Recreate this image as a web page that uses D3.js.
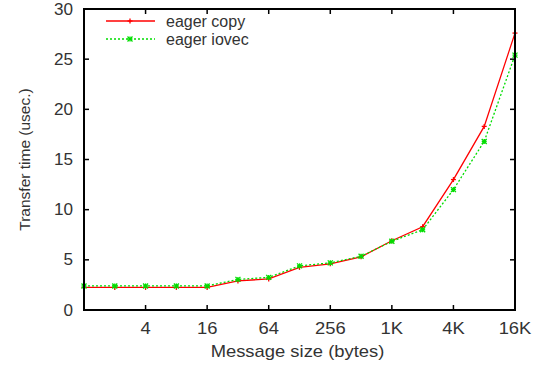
<!DOCTYPE html>
<html lang="en">
<head>
  <meta charset="UTF-8">
  <title>Transfer time</title>
  <script src="https://cdn.jsdelivr.net/npm/d3@7"></script>
  <style>
    body { margin: 0; background: #fff; }
    text { font-family: "Liberation Sans", Arial, sans-serif; font-size: 16px; fill: #333; }
  </style>
</head>
<body>
  <svg id="chart"></svg>
  <script>
    // message sizes in bytes
    const sizes = [1, 2, 4, 8, 16, 32, 64, 128, 256, 512, 1024, 2048, 4096, 8192, 16384];
    const eagerCopy = [2.25, 2.25, 2.25, 2.25, 2.25, 2.9, 3.1, 4.25, 4.6, 5.3, 6.9, 8.3, 13.0, 18.3, 27.6];
    const eagerIovec = [2.4, 2.4, 2.4, 2.4, 2.4, 3.05, 3.25, 4.4, 4.7, 5.35, 6.85, 8.0, 12.0, 16.8, 25.4];
    const xTicks = [4, 16, 64, 256, 1024, 4096, 16384];
    const xTickLabels = ['4', '16', '64', '256', '1K', '4K', '16K'];
    const yTicks = [0, 5, 10, 15, 20, 25, 30];

    const width = 537, height = 369;
    const margin = { top: 9, right: 22, bottom: 59, left: 84 };

    const svg = d3.select('#chart')
        .attr('width', width)
        .attr('height', height);

    let x = d3.scaleLog().base(2)
        .domain([1, 16384])
        .range([margin.left, width - margin.right]);
    let y = d3.scaleLinear()
        .domain([0, 30])
        .range([height - margin.bottom, margin.top]);

    let tickLen = 5;
    let ticksG = svg.append('g').attr('stroke', '#000').attr('stroke-width', 1.5);
    // y ticks, left and right, pointing inward
    yTicks.forEach(v => {
      ticksG.append('line').attr('x1', x.range()[0]).attr('x2', x.range()[0] + tickLen)
          .attr('y1', y(v)).attr('y2', y(v));
      ticksG.append('line').attr('x1', x.range()[1]).attr('x2', x.range()[1] - tickLen)
          .attr('y1', y(v)).attr('y2', y(v));
    });
    xTicks.forEach(v => {
      ticksG.append('line').attr('x1', x(v)).attr('x2', x(v))
          .attr('y1', y.range()[0]).attr('y2', y.range()[0] - tickLen);
      ticksG.append('line').attr('x1', x(v)).attr('x2', x(v))
          .attr('y1', y.range()[1]).attr('y2', y.range()[1] + tickLen);
    });

    // the original text is a little wider than it is tall
    let stretch = 1.15;

    svg.selectAll('.ylab')
        .data(yTicks)
        .enter()
        .append('text')
        .attr('class', 'ylab')
        .attr('transform', d => 'translate(' + (x.range()[0] - 11) + ',' + (y(d) + 5.5) + ') scale(1.07,1)')
        .attr('text-anchor', 'end')
        .text(d => d);

    svg.selectAll('.xlab')
        .data(xTicks)
        .enter()
        .append('text')
        .attr('class', 'xlab')
        .attr('transform', d => 'translate(' + x(d) + ',' + (y(0) + 24) + ') scale(' + stretch + ',1)')
        .attr('text-anchor', 'middle')
        .text((d, i) => xTickLabels[i]);

    svg.append('text')
        .attr('transform', 'translate(' + ((x.range()[0] + x.range()[1]) / 2 - 2) + ',357) scale(' + stretch + ',1)')
        .attr('text-anchor', 'middle')
        .text('Message size (bytes)');

    svg.append('text')
        .attr('transform', 'translate(30,' + ((y.range()[0] + y.range()[1]) / 2) + ') rotate(-90)')
        .attr('text-anchor', 'middle')
        .style('font-size', '15.5px')
        .text('Transfer time (usec.)');

    let line = d3.line()
        .x(d => x(d[0]))
        .y(d => y(d[1]));

    const series = [
      { name: 'eager copy', values: eagerCopy, color: '#ff0000', dash: null, marker: 'plus' },
      { name: 'eager iovec', values: eagerIovec, color: '#00dd00', dash: '2,2', marker: 'star' }
    ];

    function drawMarker(g, cx, cy, s) {
      let r = 2.5;
      g.append('line').attr('x1', cx - r).attr('x2', cx + r).attr('y1', cy).attr('y2', cy);
      g.append('line').attr('x1', cx).attr('x2', cx).attr('y1', cy - r).attr('y2', cy + r);
      if (s.marker === 'star') {
        g.append('line').attr('x1', cx - r).attr('x2', cx + r).attr('y1', cy - r).attr('y2', cy + r);
        g.append('line').attr('x1', cx - r).attr('x2', cx + r).attr('y1', cy + r).attr('y2', cy - r);
      }
    }

    let plotG = svg.append('g');
    series.forEach(s => {
      let pts = sizes.map((v, i) => [v, s.values[i]]);
      plotG.append('path')
          .attr('d', line(pts))
          .attr('fill', 'none')
          .attr('stroke', s.color)
          .attr('stroke-width', 1.3)
          .attr('stroke-dasharray', s.dash);
      let mG = plotG.append('g').attr('stroke', s.color).attr('stroke-width', 1.3);
      pts.forEach(p => drawMarker(mG, x(p[0]), y(p[1]), s));
    });

    // legend
    let legendG = svg.append('g');
    series.forEach((s, i) => {
      let ly = 21 + i * 18;
      legendG.append('line')
          .attr('x1', 106).attr('x2', 155)
          .attr('y1', ly).attr('y2', ly)
          .attr('stroke', s.color)
          .attr('stroke-width', 1.3)
          .attr('stroke-dasharray', s.dash);
      let mG = legendG.append('g').attr('stroke', s.color).attr('stroke-width', 1.3);
      drawMarker(mG, 130, ly, s);
      legendG.append('text')
          .attr('x', 166)
          .attr('y', ly + 5.5)
          .text(s.name);
    });

    // frame
    svg.append('rect')
        .attr('x', x.range()[0])
        .attr('y', y.range()[1])
        .attr('width', x.range()[1] - x.range()[0])
        .attr('height', y.range()[0] - y.range()[1])
        .attr('fill', 'none')
        .attr('stroke', '#000')
        .attr('stroke-width', 2);
  </script>
</body>
</html>
